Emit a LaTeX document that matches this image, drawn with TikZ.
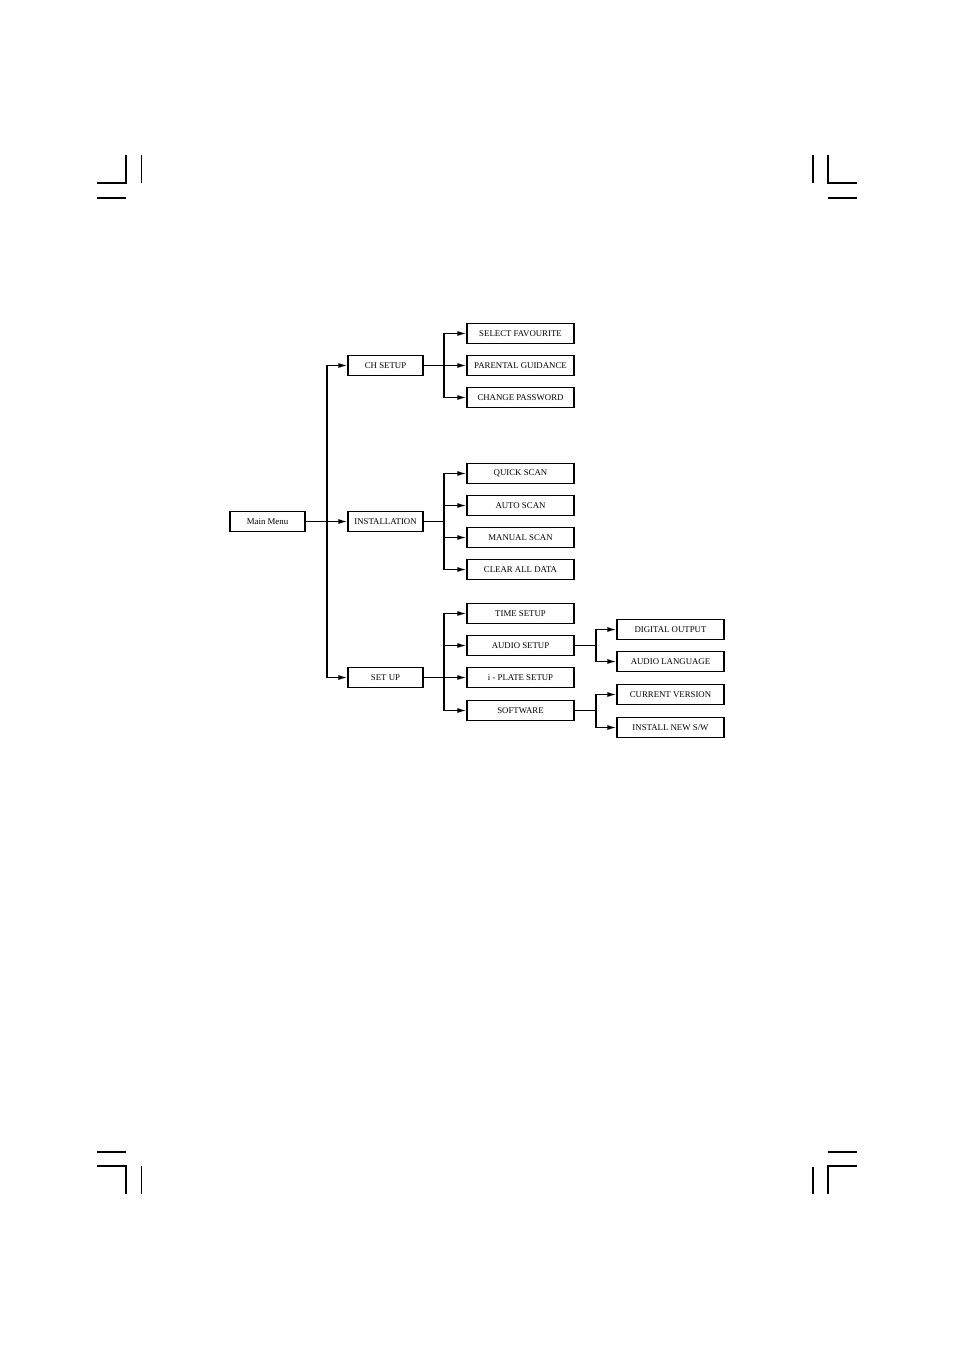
\documentclass[tikz,border=0pt]{standalone}
\usepackage{fontspec}
\setmainfont{Liberation Serif}
\usetikzlibrary{arrows.meta,shadows}
\begin{document}
\begin{tikzpicture}[x=1pt,y=-1pt,
  box/.style={draw,line width=1.2pt,fill=white,inner sep=0pt,minimum height=20pt,
    font=\fontsize{8.8}{10}\selectfont,
    drop shadow={opacity=1,shadow xshift=0.8pt,shadow yshift=-0.8pt,fill=black}},
  lvlA/.style={box,minimum width=75pt},
  lvlB/.style={box,minimum width=107pt},
  conn/.style={line width=1.4pt},
  arr/.style={conn,-{Latex[length=9pt,width=5pt]}},
  crop/.style={line width=1.1pt}]
\useasboundingbox (0,0) rectangle (954,1350);
% crop marks
\draw[crop] (97,183) -- (126,183) -- (126,155);
\draw[crop] (141.5,155) -- (141.5,183);
\draw[crop] (97,198) -- (126,198);
\draw[crop] (813,155) -- (813,183);
\draw[crop] (828,155) -- (828,183) -- (857,183);
\draw[crop] (828,198) -- (857,198);
\draw[crop] (97,1152) -- (126,1152);
\draw[crop] (97,1166) -- (126,1166) -- (126,1194);
\draw[crop] (141.5,1166) -- (141.5,1194);
\draw[crop] (828,1152) -- (857,1152);
\draw[crop] (857,1166) -- (828,1166) -- (828,1194);
\draw[crop] (813,1167) -- (813,1194);
% nodes
\node[lvlA] (main) at (267.5,521.5) {Main Menu};
\node[lvlA] (ch) at (385.5,365.5) {CH SETUP};
\node[lvlA] (inst) at (385.5,521.5) {INSTALLATION};
\node[lvlA] (setup) at (385.5,677.5) {SET UP};
\node[lvlB] (sf) at (520.5,333.5) {SELECT FAVOURITE};
\node[lvlB] (pg) at (520.5,365.5) {PARENTAL GUIDANCE};
\node[lvlB] (cp) at (520.5,397.5) {CHANGE PASSWORD};
\node[lvlB] (qs) at (520.5,473.5) {QUICK SCAN};
\node[lvlB] (as) at (520.5,505.5) {AUTO SCAN};
\node[lvlB] (ms) at (520.5,537.5) {MANUAL SCAN};
\node[lvlB] (cd) at (520.5,569.5) {CLEAR ALL DATA};
\node[lvlB] (ts) at (520.5,613.5) {TIME SETUP};
\node[lvlB] (aus) at (520.5,645.5) {AUDIO SETUP};
\node[lvlB] (ip) at (520.5,677.5) {i - PLATE SETUP};
\node[lvlB] (sw) at (520.5,710.5) {SOFTWARE};
\node[lvlB] (do) at (670.5,629.5) {DIGITAL OUTPUT};
\node[lvlB] (al) at (670.5,661.5) {AUDIO LANGUAGE};
\node[lvlB] (cv) at (670.5,694.5) {CURRENT VERSION};
\node[lvlB] (inw) at (670.5,727.5) {INSTALL NEW S/W};
% trunk coordinates
\coordinate (t0) at (327,521.5);
\coordinate (t1) at (444,365.5);
\coordinate (t2) at (444,521.5);
\coordinate (t3) at (444,677.5);
\coordinate (t4) at (596,645.5);
\coordinate (t5) at (596,710.5);
% connectors
\foreach \c in {ch,inst,setup} \draw[arr] (main.east) -- (t0) |- (\c.west);
\foreach \c in {sf,pg,cp} \draw[arr] (ch.east) -- (t1) |- (\c.west);
\foreach \c in {qs,as,ms,cd} \draw[arr] (inst.east) -- (t2) |- (\c.west);
\foreach \c in {ts,aus,ip,sw} \draw[arr] (setup.east) -- (t3) |- (\c.west);
\foreach \c in {do,al} \draw[arr] (aus.east) -- (t4) |- (\c.west);
\foreach \c in {cv,inw} \draw[arr] (sw.east) -- (t5) |- (\c.west);
\end{tikzpicture}
\end{document}
